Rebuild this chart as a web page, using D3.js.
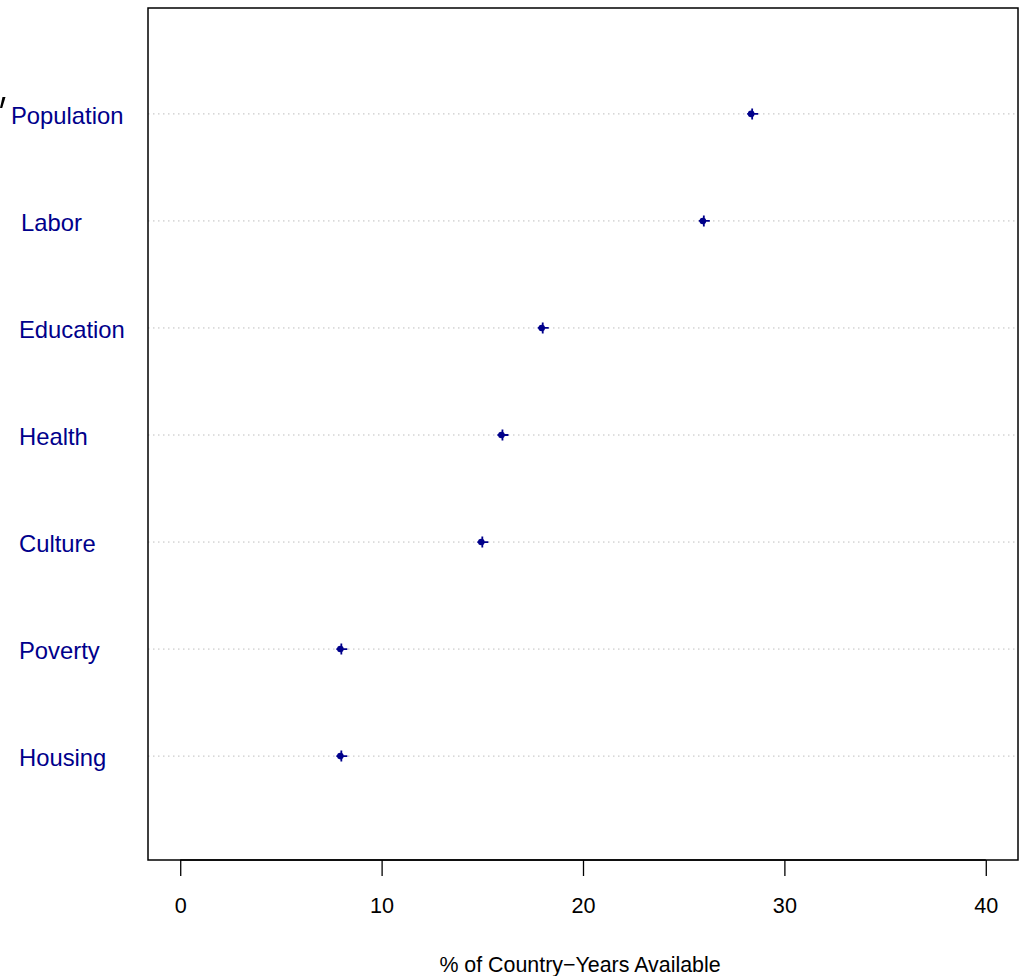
<!DOCTYPE html>
<html>
<head>
<meta charset="utf-8">
<script src="https://cdn.jsdelivr.net/npm/d3@7"></script>
<style>
  body { margin: 0; background: #fff; }
  text { font-family: "Liberation Sans", Arial, sans-serif; }
</style>
</head>
<body>
<div id="chart"></div>
<script>
var svgWidth = 1021;
var svgHeight = 976;

// data, top to bottom
var categories = ["Population", "Labor", "Education", "Health", "Culture", "Poverty", "Housing"];
var values = [28.4, 26, 18, 16, 15, 8, 8];
var xTicks = [0, 10, 20, 30, 40];
var xTitle = "% of Country\u2212Years Available";

var box = { left: 148, top: 8, right: 1018, bottom: 860 };

var svg = d3.select("#chart")
  .append("svg")
  .attr("width", svgWidth)
  .attr("height", svgHeight);

var x = d3.scaleLinear()
  .domain([-1.6, 41.6])
  .range([box.left, box.right]);

var y = d3.scalePoint()
  .domain(categories)
  .range([box.top + 1, box.bottom + 1])
  .padding(0.98);

// dotted guide lines
svg.append("g")
  .selectAll("line")
  .data(categories)
  .enter()
  .append("line")
  .attr("x1", box.left)
  .attr("x2", box.right)
  .attr("y1", d => y(d))
  .attr("y2", d => y(d))
  .attr("stroke", "#bebebe")
  .attr("stroke-width", 1)
  .attr("stroke-dasharray", "1.5,3.5");

// category labels
svg.append("g")
  .selectAll("text")
  .data(categories)
  .enter()
  .append("text")
  .attr("x", d => d === "Population" ? 11 : d === "Labor" ? 21 : 19)
  .attr("y", d => y(d) + 10)
  .attr("fill", "#00008b")
  .attr("font-size", 23.8)
  .text(d => d);

// stray clipped mark at the left edge
svg.append("path")
  .attr("d", "M0,108L2.2,108L5.5,97L2.5,97Z")
  .attr("fill", "#000");

// points
var pts = svg.append("g")
  .selectAll("g")
  .data(values)
  .enter()
  .append("g")
  .attr("transform", (d, i) => `translate(${x(d)},${y(categories[i])})`);

pts.append("circle")
  .attr("cx", -1)
  .attr("r", 3.3)
  .attr("fill", "#00008b");

pts.append("path")
  .attr("d", "M-5,0H6M0,-5.5V5.5")
  .attr("stroke", "#00008b")
  .attr("stroke-width", 1.8);

// box
svg.append("rect")
  .attr("x", box.left)
  .attr("y", box.top)
  .attr("width", box.right - box.left)
  .attr("height", box.bottom - box.top)
  .attr("fill", "none")
  .attr("stroke", "#000")
  .attr("stroke-width", 1.5);

// x axis
var xAxis = svg.append("g")
  .attr("transform", `translate(0,${box.bottom})`)
  .call(d3.axisBottom(x).tickValues(xTicks).tickSize(16).tickPadding(22));

xAxis.select(".domain")
  .attr("d", `M${x(0)},0H${x(40)}`)
  .attr("stroke-width", 1.3);
xAxis.selectAll(".tick line").attr("stroke-width", 1.3);
xAxis.selectAll(".tick text")
  .attr("font-size", 21.6)
  .attr("font-family", "'Liberation Sans', Arial, sans-serif")
  .attr("fill", "#000");

svg.append("text")
  .attr("x", (x(0) + x(40)) / 2 - 3)
  .attr("y", 972)
  .attr("text-anchor", "middle")
  .attr("font-size", 21.4)
  .text(xTitle);
</script>
</body>
</html>
